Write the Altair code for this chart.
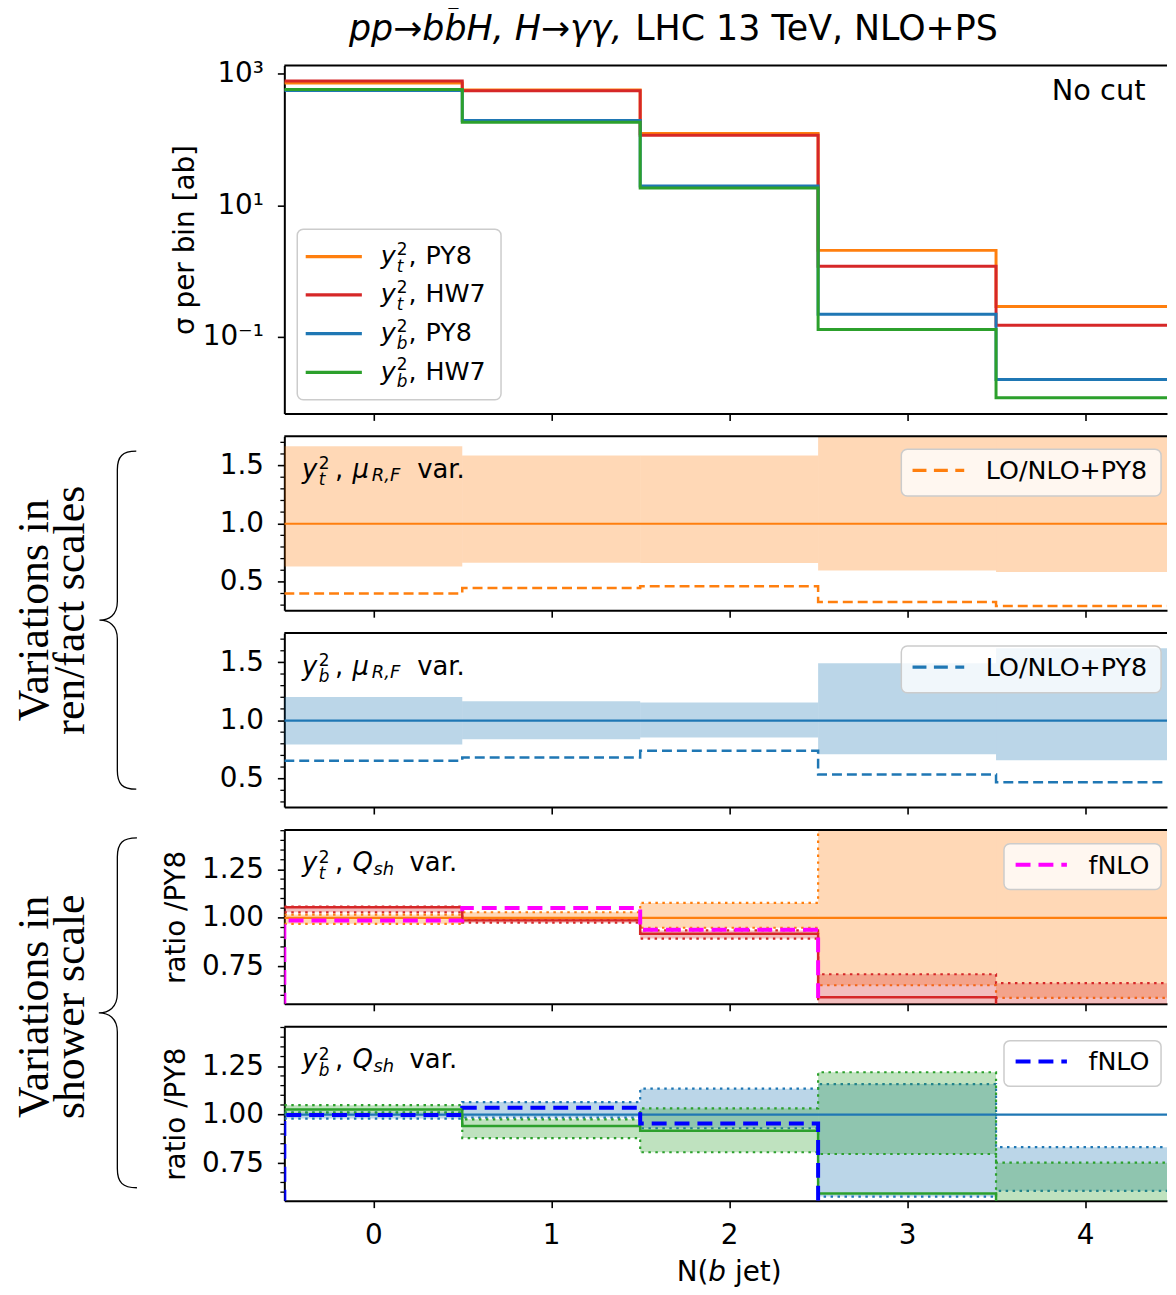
import altair as alt
import pandas as pd

# ---------------- data ----------------
bin_edges = [-0.5, 0.5, 1.5, 2.5, 3.5, 4.5]
x_ticks = [0, 1, 2, 3, 4]

# panel 1: sigma per bin [ab]
sig_yt_py8 = [720, 563, 123, 2.06, 0.29]
sig_yt_hw7 = [766, 548, 115, 1.18, 0.15]
sig_yb_py8 = [553, 193, 19.5, 0.22, 0.0226]
sig_yb_hw7 = [573, 182, 18.2, 0.13, 0.0119]

# panel 2: y_t^2, mu_R,F variation band and LO/NLO+PY8
murf_yt_lo = [0.632, 0.664, 0.662, 0.598, 0.584]
murf_yt_hi = [1.667, 1.587, 1.587, 1.9, 1.9]
lonlo_yt = [0.399, 0.447, 0.462, 0.327, 0.293]

# panel 3: y_b^2, mu_R,F variation band and LO/NLO+PY8
murf_yb_lo = [0.795, 0.84, 0.855, 0.71, 0.658]
murf_yb_hi = [1.203, 1.165, 1.156, 1.493, 1.621]
lonlo_yb = [0.654, 0.683, 0.74, 0.535, 0.47]

# panel 4: y_t^2, Q_sh variations (ratio / PY8)
ref_ratio = [1.0, 1.0, 1.0, 1.0, 1.0]
qsh_yt_py8_lo = [0.969, 0.99, 0.949, 0.652, 0.587]
qsh_yt_py8_hi = [1.017, 1.029, 1.077, 1.6, 1.6]
qsh_yt_hw7_lo = [1.029, 0.975, 0.893, 0.4, 0.4]
qsh_yt_hw7_hi = [1.058, 0.997, 0.935, 0.709, 0.663]
hw7_yt_ratio = [1.055, 0.987, 0.918, 0.59, 0.45]
fnlo_yt = [0.986, 1.051, 0.939, 0.45, 0.45]

# panel 5: y_b^2, Q_sh variations (ratio / PY8)
qsh_yb_py8_lo = [0.98, 0.985, 0.93, 0.577, 0.607]
qsh_yb_py8_hi = [1.012, 1.065, 1.134, 1.158, 0.832]
qsh_yb_hw7_lo = [1.01, 0.879, 0.806, 0.797, 0.45]
qsh_yb_hw7_hi = [1.049, 0.976, 1.032, 1.219, 0.752]
hw7_yb_ratio = [1.027, 0.942, 0.917, 0.593, 0.45]
fnlo_yb = [0.998, 1.036, 0.954, 0.45, 0.45]

# axis ticks
log_ticks = [0.1, 10, 1000]
mu_major = [0.5, 1.0, 1.5]
mu_minor = [0.3, 0.4, 0.6, 0.7, 0.8, 0.9, 1.1, 1.2, 1.3, 1.4, 1.6, 1.7]
q_major = [0.75, 1.0, 1.25]
q_minor = [0.6, 0.65, 0.7, 0.8, 0.85, 0.9, 0.95, 1.05, 1.1, 1.15, 1.2, 1.3, 1.35, 1.4, 1.45]

# ---------------- styles ----------------
C_OR = "#ff7f0e"
C_RD = "#d62728"
C_BL = "#1f77b4"
C_GR = "#2ca02c"
C_MG = "#ff00ff"
C_FB = "#0000ff"

W = 888
XMAX = -0.5 + W / 179.0
xscale = alt.Scale(domain=[-0.5, XMAX], nice=False, zero=False)
ONE = pd.DataFrame({"k": [0]})

AX = dict(grid=False, domainColor="black", domainWidth=2, tickColor="black",
          tickWidth=1.6, tickSize=7, labelColor="black", labelFont="DejaVu Sans",
          labelFontSize=28, titleFont="DejaVu Sans", titleFontSize=28,
          titleFontWeight="normal", titleColor="black", labelPadding=14)


def step_df(vals, lead=None):
    xs = list(bin_edges)
    ys = list(vals) + [vals[-1]]
    if lead is not None:
        xs = [bin_edges[0]] + xs
        ys = [lead] + ys
    return pd.DataFrame({"x": xs, "y": ys, "o": list(range(len(xs)))})


def band_df(lo, hi):
    return pd.DataFrame({"x0": bin_edges[:-1], "x1": bin_edges[1:], "lo": lo, "hi": hi})


def line(vals, color, width, ys, xa, ya, dash=None, lead=None):
    kw = dict(interpolate="step-after", clip=True, color=color, strokeWidth=width)
    if dash:
        kw["strokeDash"] = dash
    return alt.Chart(step_df(vals, lead)).mark_line(**kw).encode(
        x=alt.X("x:Q", scale=xscale, axis=xa),
        y=alt.Y("y:Q", scale=ys, axis=ya),
        order="o:Q",
    )


def band(lo, hi, color, ys, xa, ya):
    return alt.Chart(band_df(lo, hi)).mark_rect(
        clip=True, fill=color, fillOpacity=0.3, strokeWidth=0).encode(
        x=alt.X("x0:Q", scale=xscale, axis=xa), x2="x1:Q",
        y=alt.Y("lo:Q", scale=ys, axis=ya), y2="hi:Q",
    )


def dotted_band(lo, hi, color, ys, xa, ya):
    return [band(lo, hi, color, ys, xa, ya),
            line(hi, color, 2.2, ys, xa, ya, dash=[2.5, 4.5]),
            line(lo, color, 2.2, ys, xa, ya, dash=[2.5, 4.5])]


def minor(vals, ys, ya):
    return alt.Chart(pd.DataFrame({"v": vals})).mark_rule(color="black", strokeWidth=1.3).encode(
        y=alt.Y("v:Q", scale=ys, axis=ya), x=alt.value(0), x2=alt.value(-4))


def top_border():
    return alt.Chart(ONE).mark_rule(color="black", strokeWidth=2).encode(
        x=alt.value(0), x2=alt.value(W), y=alt.value(0))


def spacer(x, y):
    # white 1px cell that pins the layout bounds of the whole figure
    return alt.Chart(ONE).mark_rect(fill="white").encode(
        x=alt.value(x), x2=alt.value(x + 1), y=alt.value(y), y2=alt.value(y + 1))


def txt(s, x, y, size, style="normal", align="left", baseline="alphabetic",
        font="DejaVu Sans", angle=0, lineHeight=None):
    kw = dict(text=s, fontSize=size, fontStyle=style, align=align, baseline=baseline,
              font=font, color="black")
    if angle:
        kw["angle"] = angle
    if lineHeight:
        kw["lineHeight"] = lineHeight
    return alt.Chart(ONE).mark_text(**kw).encode(x=alt.value(x), y=alt.value(y))


def box(x0, x1, y0, y1):
    return alt.Chart(ONE).mark_rect(fill="white", fillOpacity=0.8, stroke="#cccccc",
                                    strokeWidth=1.5, cornerRadius=6).encode(
        x=alt.value(x0), x2=alt.value(x1), y=alt.value(y0), y2=alt.value(y1))


def sample(x0, x1, y, color, width, dash=None):
    kw = dict(color=color, strokeWidth=width)
    if dash:
        kw["strokeDash"] = dash
    return alt.Chart(ONE).mark_rule(**kw).encode(x=alt.value(x0), x2=alt.value(x1), y=alt.value(y))


def yuk(q, x0, yb, size, sub, supdx, supdy, subdy):
    return [txt("y", x0, yb, size, "italic"),
            txt("2", x0 + supdx, yb + supdy, sub),
            txt(q, x0 + supdx, yb + subdy, sub, "italic")]


def panel_label(q, kind):
    L = yuk(q, 17.7, 41.7, 26, 17, 17, -8.4, 7.4)
    L.append(txt(",", 51, 41.7, 26))
    if kind == "mu":
        L += [txt("μ", 68.6, 41.7, 26, "italic"), txt("R,F", 88, 45, 18, "italic"),
              txt("var.", 133.7, 41.7, 26)]
    else:
        L += [txt("Q", 68.6, 41.7, 26, "italic"), txt("sh", 89.7, 45.5, 18, "italic"),
              txt("var.", 126, 41.7, 26)]
    return L


BRACE = ("M0.112,-1 C0.03,-1 0,-0.97 0,-0.89 L0,-0.11 C0,-0.03 -0.05,0 -0.106,0 "
         "C-0.05,0 0,0.03 0,0.11 L0,0.89 C0,0.97 0.03,1 0.112,1")


def brace(xc, yc, h):
    return alt.Chart(ONE).mark_point(shape=BRACE, size=h * h, filled=False, color="black",
                                     strokeWidth=1.3, opacity=1).encode(
        x=alt.value(xc), y=alt.value(yc))


def xaxis(labels):
    return alt.Axis(values=x_ticks, labels=labels, title=None, format="d", **AX)


# ---------------- panel 1 ----------------
ys1 = alt.Scale(type="log", domain=[10 ** -2.162, 10 ** 3.121], nice=False)
ya1 = alt.Axis(values=log_ticks, title="σ per bin [ab]", titlePadding=3,
               labelExpr="datum.value >= 999 ? '10³' : datum.value >= 9 ? '10¹' : '10⁻¹'", **AX)
xa_nolab = xaxis(False)

legend1 = [box(13, 218, 164.7, 336.3)]
entries = [("t", "PY8", C_OR), ("t", "HW7", C_RD), ("b", "PY8", C_BL), ("b", "HW7", C_GR)]
entry_y = [192.3, 230.7, 269.7, 308.7]
for (q, gen, c), yl in zip(entries, entry_y):
    legend1.append(sample(21.5, 78, yl, c, 3.2))
    legend1 += yuk(q, 97, yl + 7.5, 25.5, 17, 16, -9.5, 7.5)
    legend1.append(txt(",", 125, yl + 7.5, 25.5))
    legend1.append(txt(gen, 142, yl + 7.5, 25.5))

p1 = alt.layer(
    line(sig_yt_py8, C_OR, 3, ys1, xa_nolab, ya1),
    line(sig_yt_hw7, C_RD, 3, ys1, xa_nolab, ya1),
    line(sig_yb_py8, C_BL, 3, ys1, xa_nolab, ya1),
    line(sig_yb_hw7, C_GR, 3, ys1, xa_nolab, ya1),
    top_border(),
    *legend1,
    txt("No cut", 772, 34.7, 29),
    txt("pp→bb̄H, H→γγ,", 340, -26, 35, "italic", align="right"),
    txt("LHC 13 TeV, NLO+PS", 353, -26, 35),
    spacer(-278, -54),
).properties(width=W, height=350)

# ---------------- panels 2 & 3 ----------------
ys2 = alt.Scale(domain=[0.256, 1.752], nice=False, zero=False)


def mu_panel(lo, hi, lonlo, color, q, extra):
    ya = alt.Axis(values=mu_major, format=".1f", title=None, **AX)
    xa = xaxis(False)
    return alt.layer(
        minor(mu_minor, ys2, ya),
        band(lo, hi, color, ys2, xa, ya),
        line(ref_ratio, color, 2.2, ys2, xa, ya),
        line(lonlo, color, 2.5, ys2, xa, ya, dash=[10, 5]),
        top_border(),
        box(620.7, 882, 13, 60),
        sample(632, 684, 34.3, color, 3.2, dash=[14, 7.5]),
        txt("LO/NLO+PY8", 705.7, 43, 25.5),
        *panel_label(q, "mu"),
        *extra,
    ).properties(width=W, height=175)


ann1 = [
    txt(["Variations in", "ren/fact scales"], -251, 175, 44, font="Liberation Serif",
        angle=270, align="center", baseline="middle", lineHeight=36),
    brace(-168, 185, 340),
]
p2 = mu_panel(murf_yt_lo, murf_yt_hi, lonlo_yt, C_OR, "t", ann1)
p3 = mu_panel(murf_yb_lo, murf_yb_hi, lonlo_yb, C_BL, "b", [])

# ---------------- panels 4 & 5 ----------------
ys4 = alt.Scale(domain=[0.556, 1.454], nice=False, zero=False)


def q_panel(py8_lo, py8_hi, hw7_lo, hw7_hi, hw7_ratio, fnlo, c_py8, c_hw7, c_fnlo, q,
            xlabels, extra):
    ya = alt.Axis(values=q_major, format=".2f", title="ratio /PY8", titlePadding=11, **AX)
    xa = xaxis(xlabels)
    return alt.layer(
        minor(q_minor, ys4, ya),
        *dotted_band(py8_lo, py8_hi, c_py8, ys4, xa, ya),
        *dotted_band(hw7_lo, hw7_hi, c_hw7, ys4, xa, ya),
        line(ref_ratio, c_py8, 2.2, ys4, xa, ya),
        line(hw7_ratio, c_hw7, 2.5, ys4, xa, ya),
        line(fnlo, c_fnlo, 4, ys4, xa, ya, dash=[15, 8], lead=0.3),
        top_border(),
        box(724, 882, 14, 60),
        sample(735.7, 787.3, 35, c_fnlo, 4, dash=[15, 8]),
        txt("fNLO", 809, 44, 25.5),
        *panel_label(q, "q"),
        *extra,
    ).properties(width=W, height=175)


ann2 = [
    txt(["Variations in", "shower scale"], -251, 178, 44, font="Liberation Serif",
        angle=270, align="center", baseline="middle", lineHeight=36),
    brace(-168, 184, 352),
]
xtitle = [
    txt("N(", 394.7, 256, 28),
    txt("b", 426.6, 256, 28, "italic"),
    txt("jet)", 453.3, 256, 28),
]
p4 = q_panel(qsh_yt_py8_lo, qsh_yt_py8_hi, qsh_yt_hw7_lo, qsh_yt_hw7_hi, hw7_yt_ratio, fnlo_yt,
             C_OR, C_RD, C_MG, "t", False, ann2)
p5 = q_panel(qsh_yb_py8_lo, qsh_yb_py8_hi, qsh_yb_hw7_lo, qsh_yb_hw7_hi, hw7_yb_ratio, fnlo_yb,
             C_BL, C_GR, C_FB, "b", True, xtitle)

chart = (
    alt.vconcat(p1, p2, p3, p4, p5, spacing=23, bounds="flush")
    .properties(padding=0, background="white")
    .configure(font="DejaVu Sans")
    .configure_view(strokeWidth=0)
)

chart.save("out.html", embed_options={"renderer": "svg", "actions": False})
